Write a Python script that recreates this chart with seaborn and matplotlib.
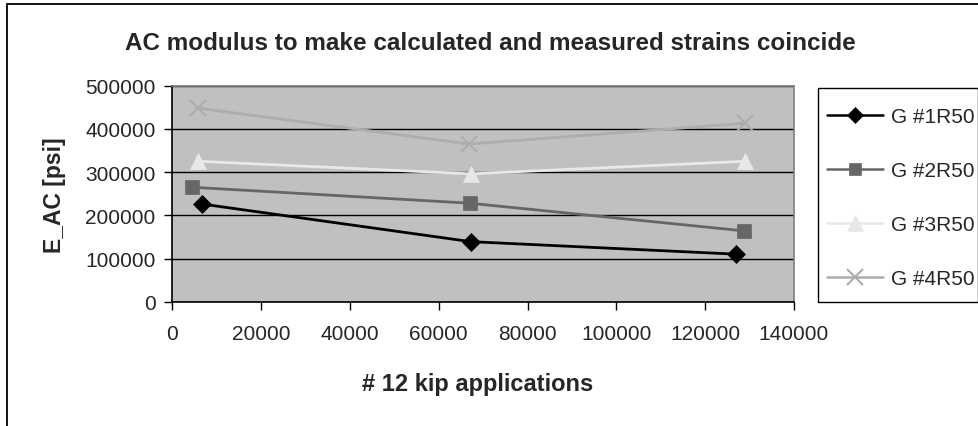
import matplotlib
matplotlib.use("Agg")
import matplotlib.pyplot as plt
import seaborn as sns
import pandas as pd
from matplotlib.patches import Rectangle

# Load repetitions (12 kip applications) and backcalculated AC modulus per gauge
series = ["G #1R50", "G #2R50", "G #3R50", "G #4R50"]
g1_x = [6750, 67200, 127000]
g1_y = [226000, 139000, 110000]
g2_x = [4400, 67000, 128700]
g2_y = [265000, 228000, 164000]
g3_x = [5850, 67200, 128900]
g3_y = [325000, 296000, 325000]
g4_x = [5850, 66800, 128900]
g4_y = [448000, 365000, 413000]

x_ticks = [0, 20000, 40000, 60000, 80000, 100000, 120000, 140000]
y_ticks = [0, 100000, 200000, 300000, 400000, 500000]

frames = []
for name, xs, ys in zip(series, [g1_x, g2_x, g3_x, g4_x], [g1_y, g2_y, g3_y, g4_y]):
    frames.append(pd.DataFrame({"apps": xs, "E_AC": ys, "gauge": name}))
df = pd.concat(frames, ignore_index=True)

sns.set_style("white")
plt.rcParams["font.family"] = ["Liberation Sans", "DejaVu Sans"]

colors = {"G #1R50": "#000000", "G #2R50": "#666666",
          "G #3R50": "#e8e8e8", "G #4R50": "#adadad"}
markers = {"G #1R50": "D", "G #2R50": "s", "G #3R50": "^", "G #4R50": "x"}
msizes = {"G #1R50": 9, "G #2R50": 10, "G #3R50": 12, "G #4R50": 12}

W, H = 979, 427
fig = plt.figure(figsize=(W / 100, H / 100), dpi=100)
fig.patch.set_facecolor("white")

# outer chart frame
fig.add_artist(Rectangle((7 / W, -0.05), 1.2, 1 - 5 / H + 0.05, transform=fig.transFigure,
                         fill=False, edgecolor="black", linewidth=1.3))

left, right, top, bottom = 172.3, 794, 86.7, 302.7
ax = fig.add_axes([left / W, 1 - bottom / H, (right - left) / W, (bottom - top) / H])
ax.set_facecolor("#c0c0c0")

handles = []
for name in series:
    sub = df[df["gauge"] == name]
    ew = 1.5 if name == "G #4R50" else 0.5
    sns.lineplot(data=sub, x="apps", y="E_AC", ax=ax, color=colors[name],
                 marker=markers[name], markersize=msizes[name],
                 markeredgecolor=colors[name], markerfacecolor=colors[name],
                 markeredgewidth=ew, linewidth=2.0, label=name,
                 legend=False, zorder=3)
    handles.append(plt.Line2D([], [], color=colors[name], marker=markers[name],
                              markersize=msizes[name] - 1, markeredgewidth=ew,
                              markerfacecolor=colors[name], markeredgecolor=colors[name],
                              linewidth=1.8))

ax.set_xlim(0, 140000)
ax.set_ylim(0, 500000)
ax.set_xticks(x_ticks)
ax.set_yticks(y_ticks)
ax.set_xticklabels([str(v) for v in x_ticks], fontsize=15)
ax.set_yticklabels([str(v) for v in y_ticks], fontsize=15)
ax.yaxis.grid(True, color="black", linewidth=1.0)
ax.xaxis.grid(False)
ax.set_axisbelow(True)
ax.tick_params(axis="both", direction="out", length=6, width=1, color="black",
               bottom=True, left=True, pad=6)
ax.tick_params(axis="x", pad=10)
for s in ["top", "right"]:
    ax.spines[s].set_color("#808080")
    ax.spines[s].set_linewidth(1.2)
for s in ["left", "bottom"]:
    ax.spines[s].set_color("black")
    ax.spines[s].set_linewidth(1.2)
ax.set_xlabel("")
ax.set_ylabel("")

fig.text(490 / W, 1 - 43 / H, "AC modulus to make calculated and measured strains coincide",
         ha="center", va="center", fontsize=17.5, fontweight="bold")
fig.text(478 / W, 1 - 385 / H, "# 12 kip applications",
         ha="center", va="center", fontsize=17, fontweight="bold")
fig.text(55 / W, 1 - 195 / H, "E_AC [psi]", rotation=90,
         ha="center", va="center", fontsize=16.5, fontweight="bold")

# legend box
fig.add_artist(Rectangle((818 / W, 1 - 303 / H), 160 / W, 214 / H, transform=fig.transFigure,
                         fill=False, edgecolor="black", linewidth=1.0))
leg = fig.legend(handles, series, loc="upper left",
                 bbox_to_anchor=(827 / W, 1 - 108 / H), fontsize=15,
                 frameon=False, handlelength=2.7, handletextpad=0.35,
                 labelspacing=1.68, borderpad=0, borderaxespad=0)

fig.savefig("out.png", dpi=100, facecolor="white")
